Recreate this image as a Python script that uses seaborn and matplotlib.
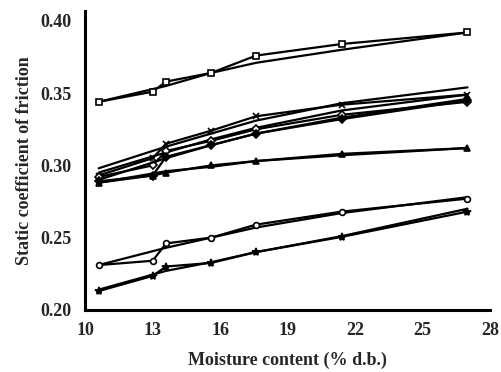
import matplotlib
matplotlib.use("Agg")
import matplotlib.pyplot as plt
import seaborn as sns
import pandas as pd

# Moisture content levels (% d.b.)
x_obs = [10.6, 13.0, 13.6, 15.6, 17.6, 21.4, 27.0]
x_fit = [10.6, 13.6, 15.6, 17.6, 21.4, 27.0]

# Observed values
square_obs = [0.344, 0.351, 0.358, 0.364, 0.376, 0.384, 0.392]
cross_obs = [0.293, 0.305, 0.315, 0.324, 0.334, 0.342, 0.349]
odiam_obs = [0.292, 0.300, 0.310, 0.317, 0.325, 0.335, 0.344]
fdiam_obs = [0.289, 0.293, 0.306, 0.314, 0.322, 0.332, 0.345]
tri_obs = [0.288, 0.293, 0.295, 0.300, 0.303, 0.308, 0.312]
circ_obs = [0.231, 0.234, 0.246, 0.250, 0.259, 0.268, 0.277]
star_obs = [0.213, 0.2235, 0.230, 0.2325, 0.240, 0.2505, 0.268]

# Fitted values
square_fit = [0.344, 0.355, 0.364, 0.371, 0.380, 0.392]
cross_fit = [0.298, 0.313, 0.322, 0.331, 0.343, 0.354]
odiam_fit = [0.295, 0.309, 0.318, 0.326, 0.338, 0.349]
fdiam_fit = [0.290, 0.305, 0.314, 0.322, 0.333, 0.346]
tri_fit = [0.288, 0.296, 0.299, 0.303, 0.307, 0.312]
circ_fit = [0.231, 0.243, 0.250, 0.257, 0.267, 0.278]
star_fit = [0.214, 0.227, 0.233, 0.240, 0.251, 0.270]

x_ticks = [10, 13, 16, 19, 22, 25, 28]
y_ticks = [0.20, 0.25, 0.30, 0.35, 0.40]
y_tick_labels = ["0.20", "0.25", "0.30", "0.35", "0.40"]

sns.set_theme(style="white")
plt.rcParams["font.family"] = ["Liberation Serif", "DejaVu Serif"]
plt.rcParams["font.weight"] = "bold"

fig = plt.figure(figsize=(5.01, 3.72), dpi=100)
ax = fig.add_axes([0.170, 0.167, 0.808, 0.804])

series = [
    (square_obs, square_fit, "s", "white"),
    (cross_obs, cross_fit, "x", "black"),
    (odiam_obs, odiam_fit, "D", "white"),
    (fdiam_obs, fdiam_fit, "D", "black"),
    (tri_obs, tri_fit, "^", "black"),
    (circ_obs, circ_fit, "o", "white"),
    (star_obs, star_fit, "*", "black"),
]

for obs, fit, mk, fc in series:
    df_fit = pd.DataFrame({"x": x_fit, "y": fit})
    sns.lineplot(data=df_fit, x="x", y="y", ax=ax, color="black",
                 linewidth=1.6, estimator=None, sort=False)
    df_obs = pd.DataFrame({"x": x_obs, "y": obs})
    ms = 4.2
    if mk == "*":
        ms = 6
    elif mk == "D":
        ms = 4
    sns.lineplot(data=df_obs, x="x", y="y", ax=ax, color="black",
                 linewidth=1.6, marker=mk, markersize=ms,
                 markerfacecolor=fc, markeredgecolor="black",
                 markeredgewidth=1.2, estimator=None, sort=False)

ax.set_xlim(10, 28)
ax.set_ylim(0.20, 0.407)
ax.set_xticks(x_ticks)
ax.set_xticklabels([str(t) for t in x_ticks])
ax.set_yticks(y_ticks)
ax.set_yticklabels(y_tick_labels)

for side in ["top", "right"]:
    ax.spines[side].set_visible(False)
for side in ["left", "bottom"]:
    ax.spines[side].set_linewidth(2.2)
    ax.spines[side].set_color("black")

ax.tick_params(axis="both", which="major", direction="out", length=4,
               width=2, color="black", labelsize=13)
ax.tick_params(axis="x", pad=5)
ax.tick_params(axis="y", pad=6)
for lab in ax.get_xticklabels() + ax.get_yticklabels():
    lab.set_fontweight("bold")

ax.set_xlabel("Moisture content (% d.b.)", fontsize=13, fontweight="bold", labelpad=9)
ax.set_ylabel("Static coefficient of friction", fontsize=13, fontweight="bold", labelpad=5)
ax.grid(False)

fig.savefig("out.png", dpi=100)
